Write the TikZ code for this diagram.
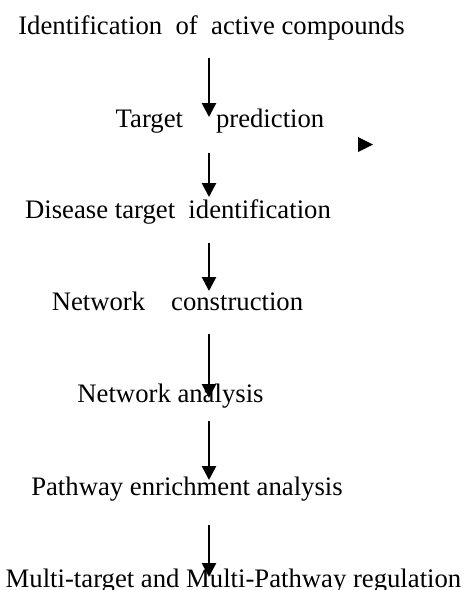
\documentclass[tikz,border=0pt]{standalone}
\usepackage{fontspec}
\setmainfont{Liberation Serif}
\usetikzlibrary{arrows.meta}
\tikzset{
    steptext/.style={inner sep=0pt, anchor=base,
        font=\fontsize{26.7}{31}\selectfont},
    flowarrow/.style={line width=2.7pt,
        -{Triangle[length=14pt, width=14pt]}},
}

\begin{document}
\begin{tikzpicture}[x=1pt, y=-1pt]
    \useasboundingbox (0, 0) rectangle (469, 590);
    \node[steptext] (ident) at (211.5, 34) {Identification\ \ of\ \ active compounds};
    \node[steptext] (target) at (220, 127) {Target\hspace{33pt}prediction};
    \node[steptext] (disease) at (178, 218) {Disease target\ \ identification};
    \node[steptext] (netcon) at (177.5, 310) {Network\hspace{26pt}construction};
    \node[steptext] (netana) at (170.5, 402) {Network analysis};
    \node[steptext] (pathway) at (187, 495) {Pathway enrichment analysis};
    \node[steptext] (multi) at (233.5, 587) {Multi-target and Multi-Pathway regulation};
    % arrow ends
    \coordinate (a1) at (209, 58);   \coordinate (b1) at (209, 117);
    \coordinate (a2) at (209, 153);  \coordinate (b2) at (209, 197);
    \coordinate (a3) at (209, 243);  \coordinate (b3) at (209, 291);
    \coordinate (a4) at (209, 334);  \coordinate (b4) at (209, 398);
    \coordinate (a5) at (209, 421);  \coordinate (b5) at (209, 480);
    \coordinate (a6) at (209, 525);  \coordinate (b6) at (209, 577);
    \foreach \i in {1, ..., 6}
        \draw[flowarrow] (a\i) -- (b\i);
    % stray arrowhead
    \fill (358, 137) -- (373, 144.5) -- (358, 152) -- cycle;
\end{tikzpicture}
\end{document}
